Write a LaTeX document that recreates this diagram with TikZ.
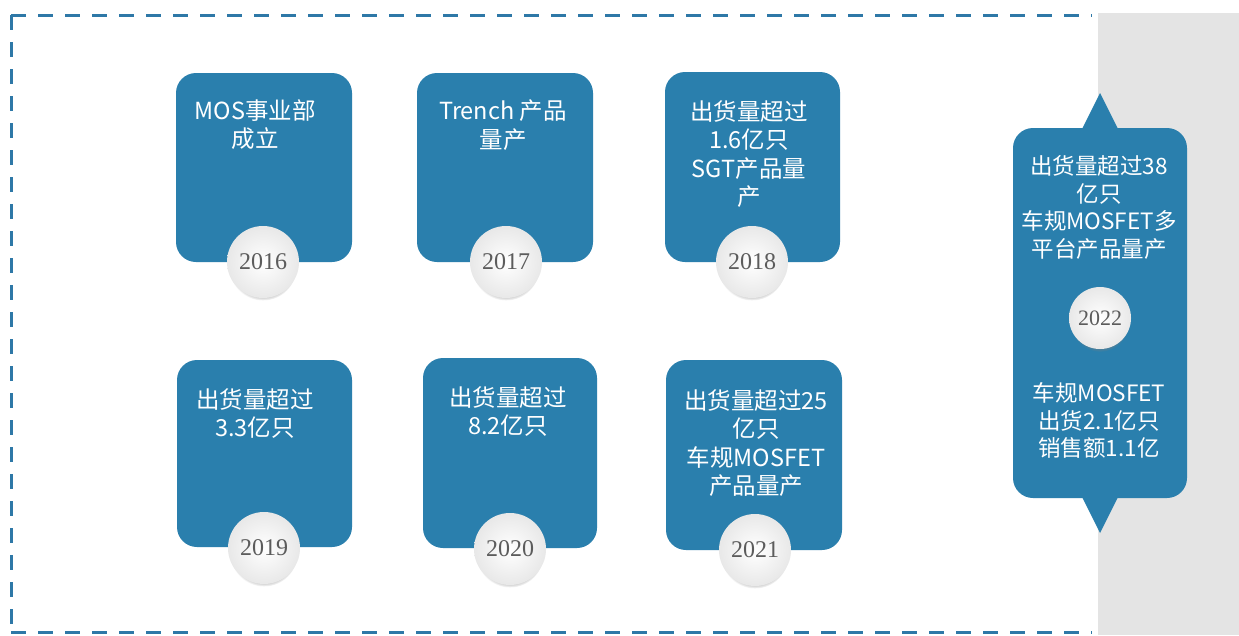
\documentclass[tikz,border=0pt]{standalone}
\usepackage{fontspec}
\newfontfamily\cjk{Noto Sans CJK SC}
\newfontfamily\yearfont{Liberation Serif}
\usetikzlibrary{calc,shadows}
\definecolor{boxblue}{HTML}{2A7FAD}
\definecolor{dashblue}{HTML}{2E78A7}
\definecolor{panelgray}{HTML}{E4E4E4}
\definecolor{yeargray}{HTML}{5C5C5C}
\tikzset{
 bluebox/.style={rectangle, rounded corners=20pt, fill=boxblue, draw=none, inner sep=0pt, outer sep=0pt},
 yearcircle/.style={circle, inner sep=0pt, minimum size=72pt, shading=radial, inner color=white, outer color=black!9,
   circular drop shadow={shadow xshift=0pt, shadow yshift=-5pt, opacity=0.55, shadow scale=0.94},
   font=\yearfont\fontsize{24}{24}\selectfont, text=yeargray},
 boxtext/.style={align=center, anchor=north, inner sep=0pt, text=white, font=\cjk\fontsize{23.5}{28.5}\selectfont},
 bigtext/.style={align=center, anchor=north, inner sep=0pt, text=white, font=\cjk\fontsize{22.5}{27.5}\selectfont},
 dashborder/.style={draw=dashblue, line width=3pt, dash pattern=on 15pt off 12pt},
}
\begin{document}
\begin{tikzpicture}[x=1pt,y=-1pt]
\useasboundingbox (0,0) rectangle (1239,635);
\fill[white] (0,0) rectangle (1239,635);
\fill[panelgray] (1098,13) rectangle (1239,635);
% dashed frame
\draw[dashborder] (11,15) -- (1092,15);
\draw[dashborder] (11,15) -- (11,632);
\draw[dashborder] (11,632) -- (1092,632);
% boxes
\node[bluebox, minimum width=176pt, minimum height=189pt] (b2016) at (264,167.5) {};
\node[bluebox, minimum width=176pt, minimum height=189pt] (b2017) at (505,167.5) {};
\node[bluebox, minimum width=175pt, minimum height=190pt] (b2018) at (752.5,167) {};
\node[bluebox, minimum width=175pt, minimum height=187pt] (b2019) at (264.5,453.5) {};
\node[bluebox, minimum width=174pt, minimum height=190pt] (b2020) at (510,453) {};
\node[bluebox, minimum width=176pt, minimum height=190pt] (b2021) at (754,455) {};
\node[bluebox, minimum width=174pt, minimum height=370pt] (b2022) at (1100,313) {};
\fill[boxblue] ($(b2022.north)+(-18,1)$) -- ($(b2022.north)+(0,-35)$) -- ($(b2022.north)+(18,1)$) -- cycle;
\fill[boxblue] ($(b2022.south)+(-18,-1)$) -- ($(b2022.south)+(0,35)$) -- ($(b2022.south)+(18,-1)$) -- cycle;
% texts
\node[boxtext] (t2016) at (255,99) {MOS事业部\\成立};
\node[boxtext] (t2017) at (503,100) {Trench 产品\\量产};
\node[boxtext] (t2018) at (749,100) {出货量超过\\1.6亿只\\SGT产品量\\产};
\node[boxtext] (t2019) at (255,388) {出货量超过\\3.3亿只};
\node[boxtext] (t2020) at (508,386) {出货量超过\\8.2亿只};
\node[boxtext] (t2021) at (756,389) {出货量超过25\\亿只\\车规MOSFET\\产品量产};
\node[bigtext] (t2022a) at (1099,155.5) {出货量超过38\\亿只\\车规MOSFET多\\平台产品量产};
\node[bigtext] (t2022b) at (1099,382.5) {车规MOSFET\\出货2.1亿只\\销售额1.1亿};
% year circles
\node[yearcircle] (c2016) at (263,262) {2016};
\node[yearcircle] (c2017) at (506,262) {2017};
\node[yearcircle] (c2018) at (752,262) {2018};
\node[yearcircle] (c2019) at (264,548) {2019};
\node[yearcircle] (c2020) at (510,549) {2020};
\node[yearcircle] (c2021) at (755,550) {2021};
\node[yearcircle, minimum size=62pt, font=\yearfont\fontsize{22}{22}\selectfont] (c2022) at (1100,318) {2022};
\end{tikzpicture}
\end{document}
